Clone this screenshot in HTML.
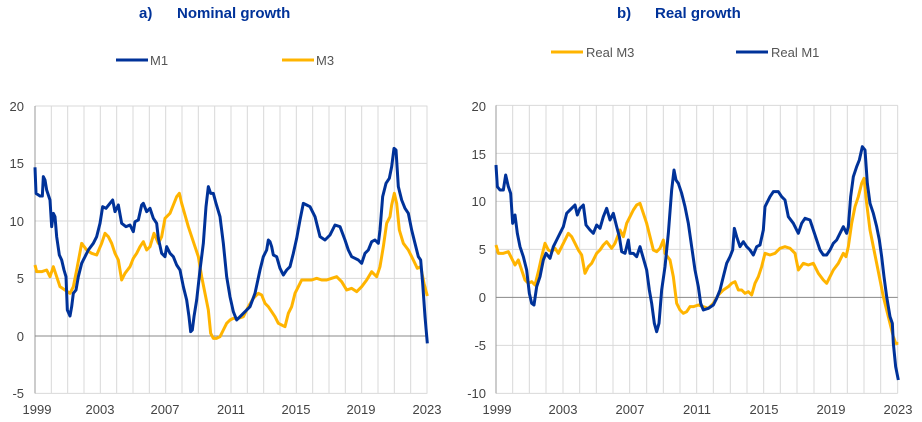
<!DOCTYPE html>
<html><head><meta charset="utf-8"><style>
html,body{margin:0;padding:0;background:#fff;}
svg{display:block;font-family:"Liberation Sans",Arial,sans-serif;}
</style></head><body>
<svg width="922" height="422" viewBox="0 0 922 422" xmlns="http://www.w3.org/2000/svg">
<g font-weight="bold" font-size="15" fill="#003299">
<text x="139" y="18">a)</text><text x="177" y="18">Nominal growth</text>
<text x="617" y="18">b)</text><text x="655" y="18">Real growth</text>
</g>
<g font-size="13" fill="#555">
<line x1="116" y1="60" x2="148" y2="60" stroke="#003299" stroke-width="3"/><text x="150" y="65">M1</text>
<line x1="282" y1="60" x2="314" y2="60" stroke="#FFB400" stroke-width="3"/><text x="316" y="65">M3</text>
<line x1="551" y1="52" x2="583" y2="52" stroke="#FFB400" stroke-width="3"/><text x="586" y="57">Real M3</text>
<line x1="736" y1="52" x2="768" y2="52" stroke="#003299" stroke-width="3"/><text x="771" y="57">Real M1</text>
</g>

<!-- Left chart -->
<g transform="translate(0,90) scale(0.3333333)" fill="none">
<g stroke="#d9d9d9" stroke-width="3">
<path d="M105 48H1282M105 220H1282M105 393H1282M105 565H1282M105 910H1282"/>
<path d="M154 48V910M203 48V910M252 48V910M301 48V910M350 48V910M399 48V910M448 48V910M497 48V910M546 48V910M595 48V910M644 48V910M693 48V910M742 48V910M791 48V910M840 48V910M889 48V910M938 48V910M987 48V910M1036 48V910M1085 48V910M1134 48V910M1183 48V910M1232 48V910M1281 48V910"/>
</g>
<path d="M105 48V910" stroke="#999" stroke-width="3"/>
<path d="M105 738H1282" stroke="#888" stroke-width="3"/>
<polyline stroke="#FFB400" stroke-width="9" stroke-linejoin="round" points="105,525 110,545 125,545 140,540 150,560 160,530 170,560 180,590 195,600 210,610 220,590 230,540 245,460 260,480 275,490 290,495 305,460 315,430 325,440 335,460 345,490 355,510 365,570 375,550 390,530 400,505 410,490 420,470 430,455 440,480 450,470 462,430 475,460 485,440 495,385 510,370 520,345 530,320 538,310 545,340 555,375 565,410 575,440 585,470 595,500 605,560 615,610 625,660 632,730 640,745 650,745 660,740 670,720 680,700 690,690 700,685 715,685 730,680 745,650 760,625 775,610 785,615 795,640 805,650 815,665 825,680 835,700 845,705 855,710 865,670 875,650 885,610 895,590 905,570 920,570 935,570 950,565 965,570 980,570 995,565 1010,560 1025,575 1040,600 1055,595 1070,605 1085,590 1100,570 1115,545 1130,560 1140,530 1150,470 1160,400 1170,380 1175,345 1183,310 1190,340 1198,420 1210,460 1225,480 1240,510 1252,535 1262,530 1272,580 1282,618"/>
<polyline stroke="#003299" stroke-width="9" stroke-linejoin="round" points="105,232 108,310 120,318 127,318 130,260 135,270 140,300 150,330 155,410 160,370 165,380 170,440 178,495 185,510 192,540 198,560 202,660 210,678 215,650 220,610 228,600 235,560 245,520 255,500 265,480 280,460 290,440 300,400 308,350 318,355 330,340 338,330 345,365 355,345 365,400 378,410 390,405 400,425 405,395 415,390 425,345 430,340 440,365 450,355 460,385 470,400 475,445 485,490 495,500 500,470 510,490 520,500 530,525 540,540 550,590 560,630 567,680 572,725 577,720 582,680 590,630 600,540 610,460 618,350 625,290 632,310 640,310 648,340 660,380 670,460 680,560 690,620 700,665 710,690 720,680 735,665 750,650 765,610 780,540 790,500 800,480 805,450 810,455 815,470 820,495 830,500 840,535 850,555 860,540 870,530 880,490 890,445 900,390 910,340 920,345 930,350 945,380 960,440 975,450 990,435 1005,405 1020,410 1035,450 1045,480 1055,500 1065,505 1075,510 1085,520 1095,490 1105,480 1115,455 1125,450 1135,460 1140,420 1148,320 1158,280 1168,265 1175,230 1182,175 1188,180 1195,290 1205,330 1215,355 1225,370 1235,420 1245,460 1255,500 1262,510 1268,580 1275,680 1282,760"/>
</g>
<g font-size="13" fill="#444" text-anchor="end">
<text x="24" y="111">20</text><text x="24" y="168">15</text><text x="24" y="226">10</text><text x="24" y="283">5</text><text x="24" y="341">0</text><text x="24" y="398">-5</text>
</g>
<g font-size="13" fill="#444" text-anchor="middle">
<text x="37" y="414">1999</text><text x="100" y="414">2003</text><text x="165" y="414">2007</text><text x="231" y="414">2011</text><text x="296" y="414">2015</text><text x="361" y="414">2019</text><text x="427" y="414">2023</text>
</g>

<!-- Right chart -->
<g transform="translate(460,90) scale(0.3333333)" fill="none">
<g stroke="#d9d9d9" stroke-width="3">
<path d="M108 46H1313M108 190H1313M108 334H1313M108 478H1313M108 766H1313M108 910H1313"/>
<path d="M158 46V910M208 46V910M258 46V910M309 46V910M359 46V910M409 46V910M459 46V910M509 46V910M560 46V910M610 46V910M660 46V910M710 46V910M760 46V910M811 46V910M861 46V910M911 46V910M961 46V910M1011 46V910M1062 46V910M1112 46V910M1162 46V910M1212 46V910M1262 46V910M1313 46V910"/>
</g>
<path d="M108 46V910" stroke="#999" stroke-width="3"/>
<path d="M108 622H1313" stroke="#888" stroke-width="3"/>
<polyline stroke="#FFB400" stroke-width="9" stroke-linejoin="round" points="108,465 115,490 130,490 145,485 155,505 165,525 175,510 185,540 195,570 205,580 215,575 225,585 235,545 245,500 255,460 265,480 275,485 285,475 295,490 305,470 315,450 325,430 335,440 345,460 355,480 365,495 375,550 385,530 395,520 410,490 420,480 430,465 440,455 455,475 465,460 480,420 490,440 500,400 510,380 520,360 530,345 540,340 550,370 560,400 570,440 580,480 590,485 600,475 610,450 615,490 630,510 640,560 650,640 660,660 670,670 680,665 690,650 700,650 715,645 730,650 745,655 760,640 775,615 790,600 805,590 815,580 825,575 835,600 845,600 855,610 865,605 875,615 885,580 895,560 905,530 915,490 930,495 945,490 960,475 975,470 990,475 1005,490 1015,540 1030,520 1045,525 1060,520 1075,550 1090,570 1100,580 1110,560 1120,540 1135,520 1150,490 1158,500 1165,470 1175,400 1185,350 1195,320 1205,280 1212,265 1220,340 1230,420 1240,470 1250,520 1260,570 1270,620 1280,660 1290,700 1300,740 1307,760 1315,760"/>
<polyline stroke="#003299" stroke-width="9" stroke-linejoin="round" points="108,225 112,290 120,300 130,300 137,255 145,290 152,310 158,400 165,375 172,430 180,470 190,500 200,540 208,610 215,640 222,645 230,590 240,560 250,510 258,490 270,505 280,470 290,450 300,430 310,410 320,370 335,355 345,345 352,375 360,355 370,345 378,405 390,420 400,430 410,405 420,415 430,380 440,355 450,390 460,370 470,410 478,440 485,485 495,490 505,450 510,490 520,490 530,500 540,470 550,505 560,540 568,600 575,640 583,700 590,725 597,700 605,600 615,530 625,430 635,300 642,240 648,270 655,280 665,310 675,350 685,400 695,470 705,540 715,590 722,640 730,660 745,655 760,645 770,625 780,600 790,560 800,520 810,500 818,480 823,415 830,440 840,470 850,455 860,470 870,480 880,495 890,470 900,465 910,420 915,350 930,320 940,305 955,305 965,320 975,330 985,380 1000,400 1015,430 1025,400 1035,385 1050,390 1060,420 1070,450 1080,480 1090,495 1100,495 1110,480 1120,460 1130,450 1140,430 1150,410 1160,430 1165,410 1172,320 1180,260 1190,230 1198,210 1207,170 1215,180 1222,280 1230,340 1240,370 1250,410 1258,450 1265,500 1272,560 1280,620 1290,680 1297,700 1300,760 1307,830 1315,870"/>
</g>
<g font-size="13" fill="#444" text-anchor="end">
<text x="486" y="111">20</text><text x="486" y="159">15</text><text x="486" y="206">10</text><text x="486" y="254">5</text><text x="486" y="302">0</text><text x="486" y="350">-5</text><text x="486" y="398">-10</text>
</g>
<g font-size="13" fill="#444" text-anchor="middle">
<text x="497" y="414">1999</text><text x="563" y="414">2003</text><text x="630" y="414">2007</text><text x="697" y="414">2011</text><text x="764" y="414">2015</text><text x="831" y="414">2019</text><text x="898" y="414">2023</text>
</g>
</svg>
</body></html>
